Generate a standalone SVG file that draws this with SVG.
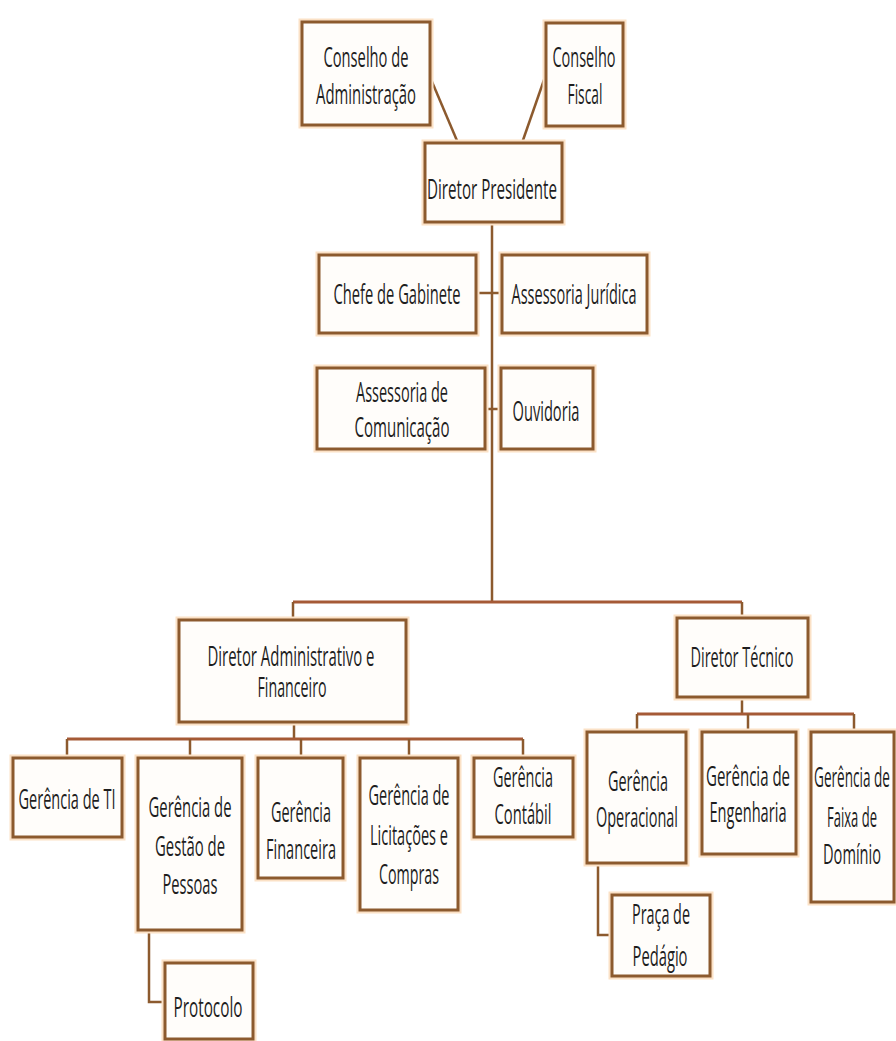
<svg xmlns="http://www.w3.org/2000/svg" width="896" height="1041" viewBox="0 0 896 1041">
<defs>
<style>
.glow{fill:none;stroke:#fbe1c6;stroke-width:7}
.box{fill:#fffdfa;stroke:#8c5a2e;stroke-width:3}
.t{font-family:"Open Sans","Liberation Sans",sans-serif;font-size:16px;fill:#1e1e1e;text-anchor:middle}
.c{fill:none;stroke:#8c5a2e;stroke-width:2.5}
.bar{fill:none;stroke:#a55a36;stroke-width:3}
</style>
</defs>
<rect width="896" height="1041" fill="#ffffff"/>
<g id="connectors">
<line class="c" x1="430" y1="77" x2="458" y2="143"/>
<line class="c" x1="545" y1="77" x2="522" y2="143"/>
<line class="c" x1="492" y1="222" x2="492" y2="602"/>
<line class="c" x1="476" y1="293" x2="502" y2="293"/>
<line class="c" x1="485" y1="409" x2="501" y2="409"/>
<line class="bar" x1="293" y1="602" x2="742" y2="602"/>
<line class="c" x1="293" y1="602" x2="293" y2="620"/>
<line class="c" x1="742" y1="602" x2="742" y2="618"/>
<line class="c" x1="294" y1="722" x2="294" y2="739"/>
<line class="bar" x1="67" y1="739" x2="523" y2="739"/>
<line class="c" x1="67" y1="739" x2="67" y2="758"/>
<line class="c" x1="190" y1="739" x2="190" y2="758"/>
<line class="c" x1="301" y1="739" x2="301" y2="758"/>
<line class="c" x1="409" y1="739" x2="409" y2="758"/>
<line class="c" x1="523" y1="739" x2="523" y2="758"/>
<line class="c" x1="742" y1="697" x2="742" y2="714"/>
<line class="bar" x1="637" y1="714" x2="854" y2="714"/>
<line class="c" x1="637" y1="714" x2="637" y2="732"/>
<line class="c" x1="748" y1="714" x2="748" y2="732"/>
<line class="c" x1="854" y1="714" x2="854" y2="732"/>
<polyline class="c" points="598,863 598,935 612,935"/>
<polyline class="c" points="149,930 149,1002 165,1002"/>
</g>
<g id="conselho-adm">
<rect class="glow" x="302" y="22" width="128" height="103"/><rect class="box" x="302" y="22" width="128" height="103"/>
<text class="t" transform="matrix(1 0 0 1.75 366 67)" textLength="85" lengthAdjust="spacingAndGlyphs">Conselho de</text>
<text class="t" transform="matrix(1 0 0 1.75 366 104)" textLength="100" lengthAdjust="spacingAndGlyphs">Administração</text>
</g>
<g id="conselho-fiscal">
<rect class="glow" x="546" y="23" width="77" height="103"/><rect class="box" x="546" y="23" width="77" height="103"/>
<text class="t" transform="matrix(1 0 0 1.75 584 67)" textLength="63" lengthAdjust="spacingAndGlyphs">Conselho</text>
<text class="t" transform="matrix(1 0 0 1.75 585 104)" textLength="35" lengthAdjust="spacingAndGlyphs">Fiscal</text>
</g>
<g id="diretor-presidente">
<rect class="glow" x="425" y="143" width="137" height="79"/><rect class="box" x="425" y="143" width="137" height="79"/>
<text class="t" transform="matrix(1 0 0 1.75 492 199)" textLength="130" lengthAdjust="spacingAndGlyphs">Diretor Presidente</text>
</g>
<g id="chefe-gabinete">
<rect class="glow" x="319" y="255" width="157" height="78"/><rect class="box" x="319" y="255" width="157" height="78"/>
<text class="t" transform="matrix(1 0 0 1.75 397 304)" textLength="127" lengthAdjust="spacingAndGlyphs">Chefe de Gabinete</text>
</g>
<g id="assessoria-juridica">
<rect class="glow" x="502" y="255" width="145" height="78"/><rect class="box" x="502" y="255" width="145" height="78"/>
<text class="t" transform="matrix(1 0 0 1.75 574 304)" textLength="125" lengthAdjust="spacingAndGlyphs">Assessoria Jurídica</text>
</g>
<g id="assessoria-comunicacao">
<rect class="glow" x="317" y="368" width="168" height="81"/><rect class="box" x="317" y="368" width="168" height="81"/>
<text class="t" transform="matrix(1 0 0 1.75 402 402)" textLength="92" lengthAdjust="spacingAndGlyphs">Assessoria de</text>
<text class="t" transform="matrix(1 0 0 1.75 402 437)" textLength="95" lengthAdjust="spacingAndGlyphs">Comunicação</text>
</g>
<g id="ouvidoria">
<rect class="glow" x="501" y="368" width="92" height="81"/><rect class="box" x="501" y="368" width="92" height="81"/>
<text class="t" transform="matrix(1 0 0 1.75 546 421)" textLength="67" lengthAdjust="spacingAndGlyphs">Ouvidoria</text>
</g>
<g id="diretor-adm-fin">
<rect class="glow" x="179" y="620" width="227" height="102"/><rect class="box" x="179" y="620" width="227" height="102"/>
<text class="t" transform="matrix(1 0 0 1.75 291 666)" textLength="167" lengthAdjust="spacingAndGlyphs">Diretor Administrativo e</text>
<text class="t" transform="matrix(1 0 0 1.75 292 697)" textLength="69" lengthAdjust="spacingAndGlyphs">Financeiro</text>
</g>
<g id="diretor-tecnico">
<rect class="glow" x="677" y="618" width="131" height="79"/><rect class="box" x="677" y="618" width="131" height="79"/>
<text class="t" transform="matrix(1 0 0 1.75 742 667)" textLength="103" lengthAdjust="spacingAndGlyphs">Diretor Técnico</text>
</g>
<g id="gerencia-ti">
<rect class="glow" x="13" y="758" width="109" height="79"/><rect class="box" x="13" y="758" width="109" height="79"/>
<text class="t" transform="matrix(1 0 0 1.75 67 809)" textLength="97" lengthAdjust="spacingAndGlyphs">Gerência de TI</text>
</g>
<g id="gerencia-pessoas">
<rect class="glow" x="138" y="758" width="104" height="172"/><rect class="box" x="138" y="758" width="104" height="172"/>
<text class="t" transform="matrix(1 0 0 1.75 190 817)" textLength="83" lengthAdjust="spacingAndGlyphs">Gerência de</text>
<text class="t" transform="matrix(1 0 0 1.75 190 856)" textLength="70" lengthAdjust="spacingAndGlyphs">Gestão de</text>
<text class="t" transform="matrix(1 0 0 1.75 190 894)" textLength="55" lengthAdjust="spacingAndGlyphs">Pessoas</text>
</g>
<g id="gerencia-financeira">
<rect class="glow" x="258" y="758" width="85" height="120"/><rect class="box" x="258" y="758" width="85" height="120"/>
<text class="t" transform="matrix(1 0 0 1.75 301 822)" textLength="60" lengthAdjust="spacingAndGlyphs">Gerência</text>
<text class="t" transform="matrix(1 0 0 1.75 301 859)" textLength="70" lengthAdjust="spacingAndGlyphs">Financeira</text>
</g>
<g id="gerencia-licitacoes">
<rect class="glow" x="360" y="758" width="98" height="152"/><rect class="box" x="360" y="758" width="98" height="152"/>
<text class="t" transform="matrix(1 0 0 1.75 409 805)" textLength="81" lengthAdjust="spacingAndGlyphs">Gerência de</text>
<text class="t" transform="matrix(1 0 0 1.75 409 845)" textLength="78" lengthAdjust="spacingAndGlyphs">Licitações e</text>
<text class="t" transform="matrix(1 0 0 1.75 409 884)" textLength="60" lengthAdjust="spacingAndGlyphs">Compras</text>
</g>
<g id="gerencia-contabil">
<rect class="glow" x="474" y="758" width="99" height="79"/><rect class="box" x="474" y="758" width="99" height="79"/>
<text class="t" transform="matrix(1 0 0 1.75 523 787)" textLength="60" lengthAdjust="spacingAndGlyphs">Gerência</text>
<text class="t" transform="matrix(1 0 0 1.75 523 824)" textLength="57" lengthAdjust="spacingAndGlyphs">Contábil</text>
</g>
<g id="gerencia-operacional">
<rect class="glow" x="587" y="732" width="99" height="131"/><rect class="box" x="587" y="732" width="99" height="131"/>
<text class="t" transform="matrix(1 0 0 1.75 638 791)" textLength="60" lengthAdjust="spacingAndGlyphs">Gerência</text>
<text class="t" transform="matrix(1 0 0 1.75 637 827)" textLength="82" lengthAdjust="spacingAndGlyphs">Operacional</text>
</g>
<g id="gerencia-engenharia">
<rect class="glow" x="702" y="732" width="94" height="122"/><rect class="box" x="702" y="732" width="94" height="122"/>
<text class="t" transform="matrix(1 0 0 1.75 748 786)" textLength="84" lengthAdjust="spacingAndGlyphs">Gerência de</text>
<text class="t" transform="matrix(1 0 0 1.75 748 822)" textLength="77" lengthAdjust="spacingAndGlyphs">Engenharia</text>
</g>
<g id="gerencia-faixa">
<rect class="glow" x="811" y="732" width="83" height="170"/><rect class="box" x="811" y="732" width="83" height="170"/>
<text class="t" style="font-size:14px" transform="matrix(1 0 0 2 852 787)" textLength="76" lengthAdjust="spacingAndGlyphs">Gerência de</text>
<text class="t" transform="matrix(1 0 0 1.75 852 827)" textLength="50" lengthAdjust="spacingAndGlyphs">Faixa de</text>
<text class="t" transform="matrix(1 0 0 1.75 852 864)" textLength="58" lengthAdjust="spacingAndGlyphs">Domínio</text>
</g>
<g id="praca-pedagio">
<rect class="glow" x="612" y="895" width="98" height="81"/><rect class="box" x="612" y="895" width="98" height="81"/>
<text class="t" transform="matrix(1 0 0 1.75 661 924)" textLength="58" lengthAdjust="spacingAndGlyphs">Praça de</text>
<text class="t" transform="matrix(1 0 0 1.75 660 966)" textLength="55" lengthAdjust="spacingAndGlyphs">Pedágio</text>
</g>
<g id="protocolo">
<rect class="glow" x="165" y="963" width="88" height="76"/><rect class="box" x="165" y="963" width="88" height="76"/>
<text class="t" transform="matrix(1 0 0 1.75 208 1017)" textLength="69" lengthAdjust="spacingAndGlyphs">Protocolo</text>
</g>
</svg>
